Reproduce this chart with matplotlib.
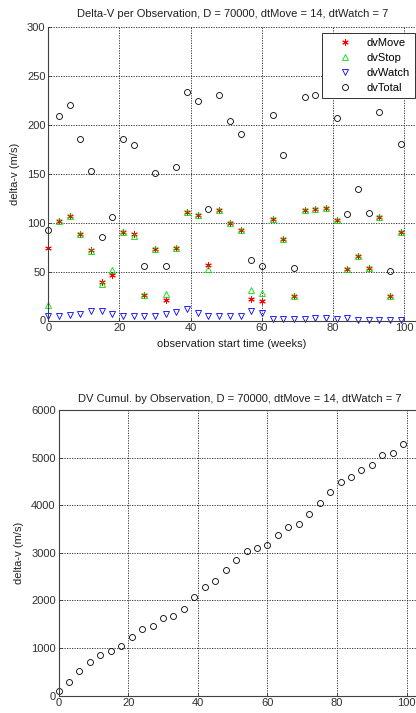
import numpy as np
import matplotlib
matplotlib.use('Agg')
import matplotlib.pyplot as plt

plt.rcParams['font.family'] = ['Liberation Sans', 'DejaVu Sans']

# observation start times (weeks)
weeks = list(range(0, 100, 3))

# delta-v per observation (m/s)
dv_move = [73.6, 102, 107, 88.7, 72, 39.4, 47, 90, 88, 26, 73, 21, 74.6, 110.6, 108, 56.5, 113,
           99.5, 92.5, 21.6, 19.5, 104, 83.6, 25.3, 113, 114.4, 115, 102.7, 53, 66.4, 54, 106, 25.3, 90]
dv_stop = [16, 102, 107, 88.7, 71, 37.7, 52, 90, 86, 26, 73, 27, 73.6, 110.6, 108, 53, 113,
           99.5, 92.5, 30.8, 28, 104, 83.6, 25.3, 113, 114.4, 115, 102.7, 53, 66.4, 54, 106, 25.3, 90]
dv_watch = [4.5, 4.5, 5.5, 7, 9.6, 9.2, 7, 4.5, 4.5, 4.5, 5, 6.5, 8.6, 11.3, 7.5, 5, 4.5,
            4.5, 5, 9.6, 7.5, 1.4, 1.4, 1.4, 1.4, 2.4, 2.4, 2, 2.7, 0.7, 0.7, 0.3, 0.2, 0.5]
dv_total = [93, 209, 220, 185.5, 153, 85.6, 106, 185.8, 179, 56, 150.7, 55.5, 157, 233.8, 224, 114.4, 230,
            203.6, 190.5, 62.3, 55.5, 210.5, 169.4, 53.4, 228.6, 231, 232, 207, 109, 134, 110, 213, 50.3, 180]

# cumulative delta-v (m/s)
dv_cumul = [88, 291, 509, 698, 853, 937, 1042, 1232, 1407, 1463, 1625, 1667, 1828, 2060, 2284, 2404, 2635,
            2839, 3028, 3091, 3154, 3372, 3533, 3596, 3807, 4046, 4277, 4488, 4600, 4733, 4839, 5056, 5098, 5295]

W, H = 416, 713
fig = plt.figure(figsize=(W / 100, H / 100), dpi=100)

fs = 8
grid_kw = dict(color='#202020', linestyle=(0, (1.5, 1.5)), linewidth=0.6)
mk = dict(linestyle='none', markersize=4.3, markeredgewidth=0.6, clip_on=False)


def style_axes(ax):
    ax.set_axisbelow(True)
    ax.grid(True, **grid_kw)
    ax.tick_params(direction='in', length=2.5, width=0.6, labelsize=fs, colors='#303030', pad=2)
    for s in ax.spines.values():
        s.set_linewidth(0.8)
        s.set_color('#404040')
    ax.spines['right'].set_visible(False)
    ax.set_xticks([0, 20, 40, 60, 80, 100])


# --- top chart ---
ax1 = fig.add_axes([48.3 / W, (H - 320.5) / H, 367.7 / W, 293.5 / H])
ax1.plot(weeks, dv_move, marker=(6, 2, 0), color='red', label='dvMove',
         **{**mk, 'markeredgewidth': 0.7, 'markersize': 4.6})
ax1.plot(weeks, dv_stop, marker='^', color='#00e000', markerfacecolor='none', label='dvStop', **mk)
ax1.plot(weeks, dv_watch, marker='v', color='blue', markerfacecolor='none', label='dvWatch', **mk)
ax1.plot(weeks, dv_total, marker='o', color='black', markerfacecolor='none', label='dvTotal', **mk)
ax1.set_xlim(0, 103.3)
ax1.set_ylim(0, 300)
ax1.set_yticks(range(0, 301, 50))
style_axes(ax1)
ax1.spines['top'].set_visible(False)
ax1.set_title('Delta-V per Observation, D = 70000, dtMove = 14, dtWatch = 7',
              fontsize=fs, color='#202020', pad=7)
ax1.set_xlabel('observation start time (weeks)', fontsize=fs, color='#202020', labelpad=4)
ax1.set_ylabel('delta-v (m/s)', fontsize=fs, color='#202020', labelpad=5)

leg = ax1.legend(loc='upper left', bbox_to_anchor=(0.7456, 0.9796), fontsize=fs,
                 frameon=True, fancybox=False, framealpha=1, edgecolor='#303030',
                 borderpad=0.45, handlelength=3.2, handletextpad=0.35, labelspacing=0.45,
                 borderaxespad=0)
leg.get_frame().set_linewidth(0.7)
leg.set_zorder(10)

# --- bottom chart ---
ax2 = fig.add_axes([58.5 / W, (H - 695.5) / H, 361.5 / W, 285.5 / H])
ax2.plot(weeks, dv_cumul, marker='o', color='black', markerfacecolor='none', **mk)
ax2.set_xlim(0, 103.8)
ax2.set_ylim(0, 6000)
ax2.set_yticks(range(0, 6001, 1000))
style_axes(ax2)
ax2.set_title('DV Cumul. by Observation, D = 70000, dtMove = 14, dtWatch = 7',
              fontsize=fs, color='#202020', pad=6)
ax2.set_ylabel('delta-v (m/s)', fontsize=fs, color='#202020', labelpad=5)

fig.savefig('out.png', dpi=100)
